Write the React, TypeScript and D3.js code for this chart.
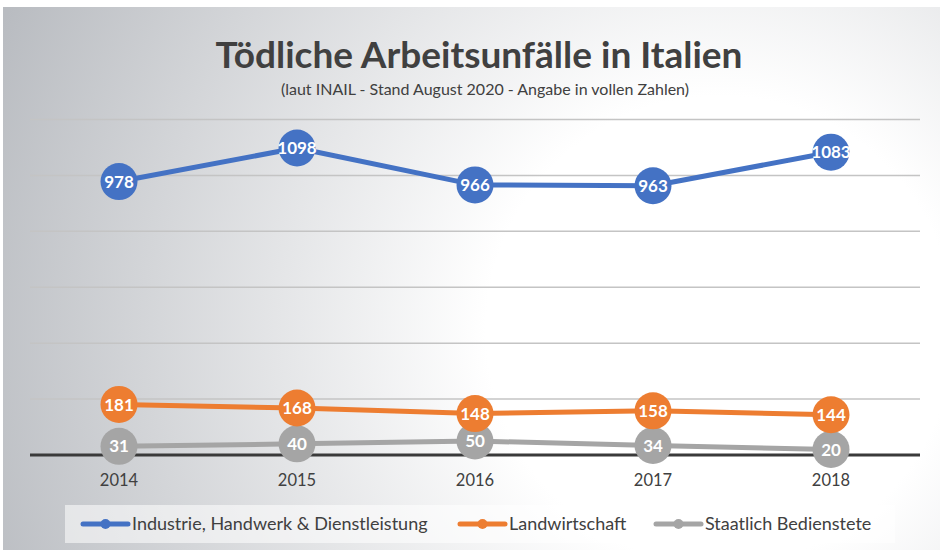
import React, { useEffect, useRef } from "react";
import * as d3 from "d3";

const years = ["2014", "2015", "2016", "2017", "2018"];
const industrie = [978, 1098, 966, 963, 1083];
const landwirtschaft = [181, 168, 148, 158, 144];
const staatlich = [31, 40, 50, 34, 20];
const seriesNames = ["Industrie, Handwerk & Dienstleistung", "Landwirtschaft", "Staatlich Bedienstete"];
const seriesColors = ["#4472C4", "#ED7D31", "#A5A5A5"];
const gridTicks = [0, 200, 400, 600, 800, 1000, 1200];

const W = 945, H = 550;
const FONT = "Lato, 'Open Sans', sans-serif";

function App() {
    const svgRef = useRef(null);

    useEffect(() => {
        const svg = d3.select(svgRef.current);
        svg.selectAll("*").remove();

        const defs = svg.append("defs");
        const grad = defs.append("radialGradient")
            .attr("id", "bg")
            .attr("gradientUnits", "userSpaceOnUse")
            .attr("cx", 720).attr("cy", 330).attr("r", 780);
        grad.append("stop").attr("offset", "0").attr("stop-color", "#ffffff");
        grad.append("stop").attr("offset", "0.3").attr("stop-color", "#ffffff");
        grad.append("stop").attr("offset", "1").attr("stop-color", "#b9bcc1");

        svg.append("rect").attr("width", W).attr("height", H).attr("fill", "#ffffff");
        svg.append("rect")
            .attr("x", 3).attr("y", 7).attr("width", 937).attr("height", 543)
            .attr("fill", "url(#bg)");

        const x = d3.scaleBand().domain(years).range([30, 920]);
        const cx = d => x(d) + x.bandwidth() / 2;
        const y = d3.scaleLinear().domain([0, 1200]).range([455, 119.5]);

        // title
        svg.append("text")
            .attr("x", 479).attr("y", 68)
            .attr("text-anchor", "middle")
            .attr("font-family", FONT).attr("font-weight", "bold")
            .attr("font-size", 37).attr("fill", "#404040")
            .text("Tödliche Arbeitsunfälle in Italien");
        svg.append("text")
            .attr("x", 485).attr("y", 95)
            .attr("text-anchor", "middle")
            .attr("font-family", FONT)
            .attr("font-size", 16).attr("fill", "#404040")
            .text("(laut INAIL - Stand August 2020 - Angabe in vollen Zahlen)");

        // gridlines
        svg.append("g").selectAll("line")
            .data(gridTicks.filter(t => t > 0))
            .enter().append("line")
            .attr("x1", 30).attr("x2", 920)
            .attr("y1", d => y(d)).attr("y2", d => y(d))
            .attr("stroke", "#c4c4c4").attr("stroke-width", 1.5);

        svg.append("line")
            .attr("x1", 30).attr("x2", 920)
            .attr("y1", y(0)).attr("y2", y(0))
            .attr("stroke", "#3a3a3a").attr("stroke-width", 3);

        // x labels
        svg.append("g").selectAll("text")
            .data(years).enter().append("text")
            .attr("x", d => cx(d)).attr("y", 486)
            .attr("text-anchor", "middle")
            .attr("font-family", FONT).attr("font-size", 16.5)
            .attr("fill", "#404040")
            .text(d => d);

        const allSeries = [industrie, landwirtschaft, staatlich];
        const line = d3.line<number>()
            .x((d, i) => cx(years[i]))
            .y(d => y(d));

        // draw gray first, then orange, then blue
        [2, 1, 0].forEach(si => {
            const vals = allSeries[si];
            const g = svg.append("g");
            g.append("path")
                .datum(vals)
                .attr("d", line)
                .attr("fill", "none")
                .attr("stroke", seriesColors[si])
                .attr("stroke-width", 5)
                .attr("stroke-linejoin", "round");
            g.selectAll("circle")
                .data(vals).enter().append("circle")
                .attr("cx", (d, i) => cx(years[i]))
                .attr("cy", d => y(d))
                .attr("r", 18.5)
                .attr("fill", seriesColors[si]);
            g.selectAll("text")
                .data(vals).enter().append("text")
                .attr("x", (d, i) => cx(years[i]))
                .attr("y", d => y(d))
                .attr("dy", "0.36em")
                .attr("text-anchor", "middle")
                .attr("font-family", FONT).attr("font-weight", "bold")
                .attr("font-size", 17).attr("fill", "#ffffff")
                .text(d => d);
        });

        // legend
        svg.append("rect")
            .attr("x", 65).attr("y", 505).attr("width", 830).attr("height", 38)
            .attr("fill", "#ffffff").attr("fill-opacity", 0.55);

        const legendX = [83, 460, 656];
        seriesNames.forEach((name, i) => {
            const lg = svg.append("g").attr("transform", `translate(${legendX[i]},524)`);
            lg.append("line")
                .attr("x1", 0).attr("x2", 45)
                .attr("stroke", seriesColors[i]).attr("stroke-width", 5)
                .attr("stroke-linecap", "round");
            lg.append("circle").attr("cx", 22.5).attr("r", 5).attr("fill", seriesColors[i]);
            lg.append("text")
                .attr("x", 49).attr("dy", "0.36em")
                .attr("font-family", FONT).attr("font-size", 18)
                .attr("fill", "#404040")
                .text(name);
        });
    }, []);

    return <svg ref={svgRef} width={W} height={H} style={{ display: "block", position: "absolute", left: 0, top: 0 }} />;
}

export default App;
